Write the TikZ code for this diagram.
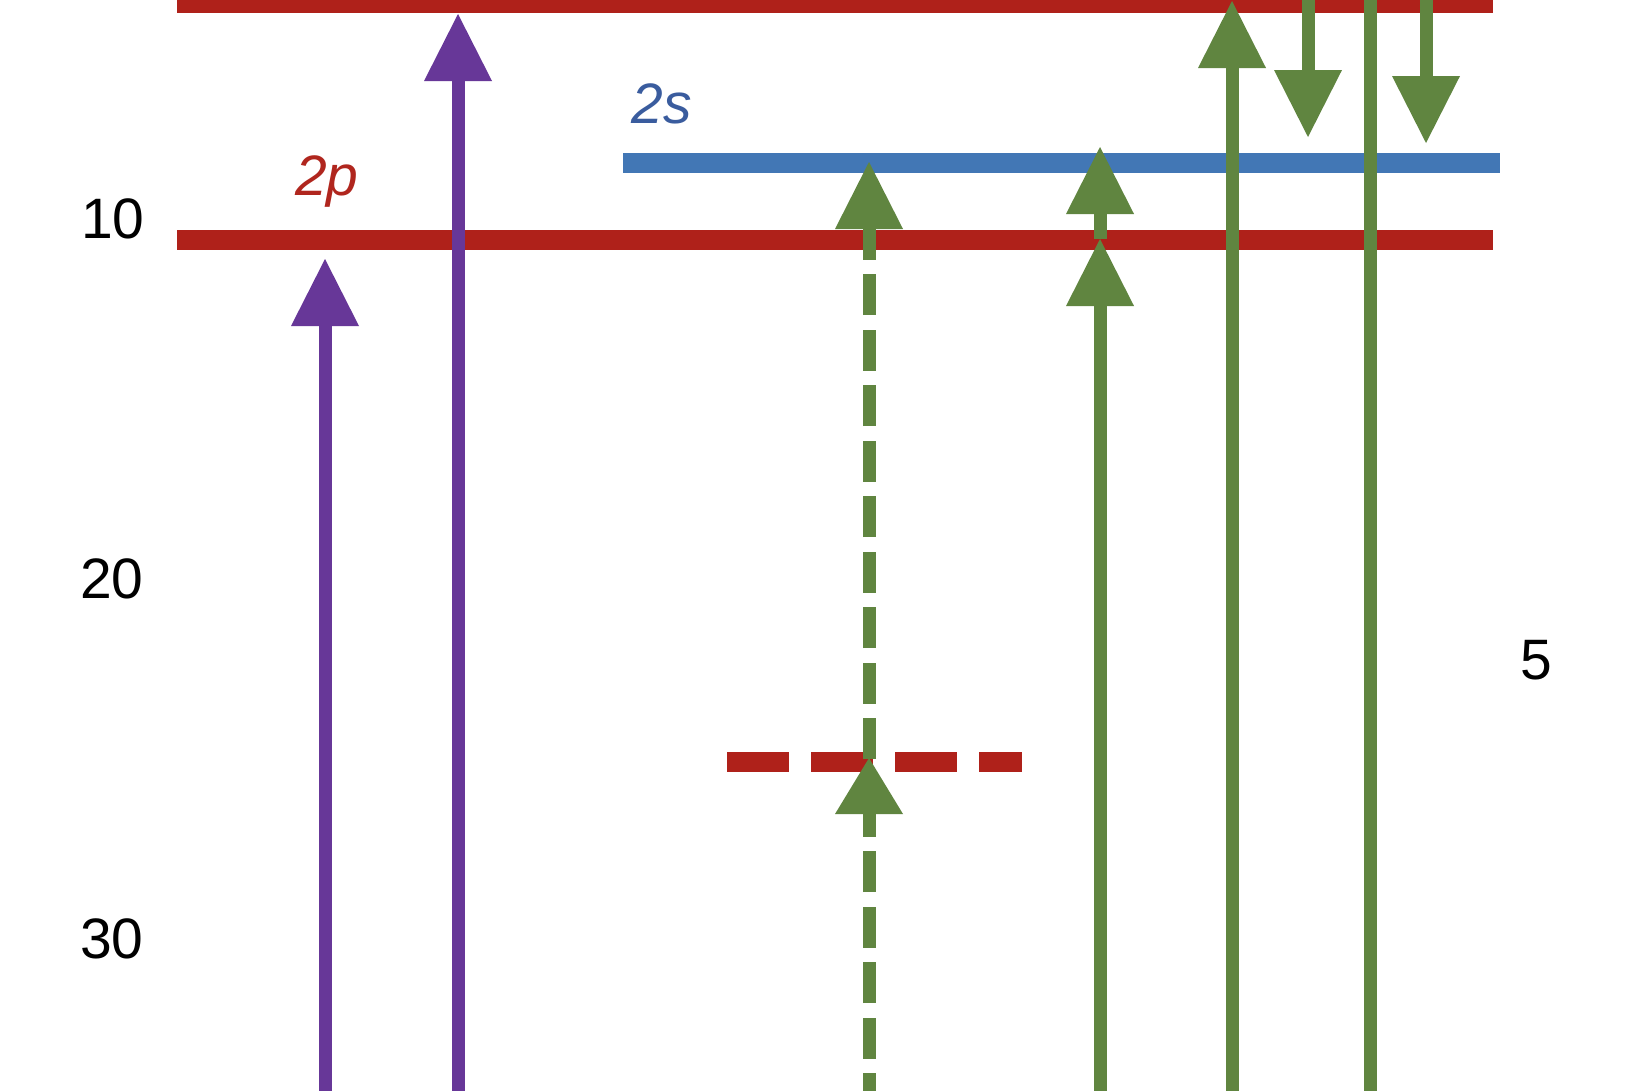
\documentclass[tikz,border=0pt]{standalone}
\usepackage{fontspec}
\setmainfont{Liberation Sans}
\usetikzlibrary{arrows.meta}
\definecolor{lvred}{HTML}{AF211A}
\definecolor{lvblue}{HTML}{4277B5}
\definecolor{txblue}{HTML}{3A5C9E}
\definecolor{txred}{HTML}{B0261E}
\definecolor{arpurple}{HTML}{673798}
\definecolor{argreen}{HTML}{608540}
\begin{document}
\begin{tikzpicture}[x=1pt,y=-1pt,
  level/.style={line width=20pt},
  arrbase/.style={line width=13pt},
  arr/.style={arrbase,-{Triangle[width=68pt,length=67pt,line width=0pt]}},
  arrshort/.style={arrbase,-{Triangle[width=68pt,length=56pt,line width=0pt]}},
  gdash/.style={dash pattern=on 41pt off 14.5pt},
  lbl/.style={font=\fontsize{57}{60}\selectfont, inner sep=0pt, anchor=base}]
\useasboundingbox (0,0) rectangle (1635,1090);
\clip (0,0) rectangle (1635,1090);
\fill[white] (0,0) rectangle (1635,1090);

% energy levels
\coordinate (topL) at (177,3);   \coordinate (topR) at (1493,3);
\coordinate (ppL) at (177,240);  \coordinate (ppR) at (1493,240);
\coordinate (ssL) at (623,163);  \coordinate (ssR) at (1500,163);
\coordinate (vL) at (727,762);   \coordinate (vR) at (1022,762);
\draw[level, lvred] (topL) -- (topR);
\draw[level, lvred] (ppL) -- (ppR);
\draw[level, lvblue] (ssL) -- (ssR);
\draw[level, lvred, dash pattern=on 62pt off 22pt] (vL) -- (vR);

% labels
\node[lbl] (t10) at (113,238) {10};
\node[lbl] (t20) at (112,598) {20};
\node[lbl] (t30) at (112,958) {30};
\node[lbl] (t5) at (1536,679) {5};
\node[lbl, text=txred] (l2p) at (327,195) {\itshape 2p};
\node[lbl, text=txblue] (l2s) at (662,123) {\itshape 2s};

% purple arrows
\coordinate (a1s) at (325,1100); \coordinate (a1e) at (325,259);
\coordinate (a2s) at (458,1100); \coordinate (a2e) at (458,14);
\draw[arr, arpurple] (a1s) -- (a1e);
\draw[arr, arpurple] (a2s) -- (a2e);

% green dashed two-step arrow
\coordinate (d1s) at (869,1114); \coordinate (d1e) at (869,758);
\coordinate (d2s) at (869,759);  \coordinate (d2e) at (869,162);
\draw[arrshort, argreen, gdash] (d1s) -- (d1e);
\draw[arr, argreen, gdash] (d2s) -- (d2e);

% green two-step solid arrow
\coordinate (b1s) at (1100,1100); \coordinate (b1e) at (1100,239);
\coordinate (b2e) at (1100,147);
\draw[arr, argreen] (b1s) -- (b1e);
\draw[arr, argreen] (b1e) -- (b2e);

% green long up arrow
\coordinate (c1s) at (1232,1100); \coordinate (c1e) at (1232,1);
\draw[arr, argreen] (c1s) -- (c1e);

% green down arrows
\coordinate (e1s) at (1308,-10); \coordinate (e1e) at (1308,137);
\coordinate (e2s) at (1426,-10); \coordinate (e2e) at (1426,143);
\draw[arr, argreen] (e1s) -- (e1e);
\draw[arr, argreen] (e2s) -- (e2e);

% green vertical line
\coordinate (f1s) at (1370,-10); \coordinate (f1e) at (1370,1100);
\draw[arrbase, argreen] (f1s) -- (f1e);
\end{tikzpicture}
\end{document}
